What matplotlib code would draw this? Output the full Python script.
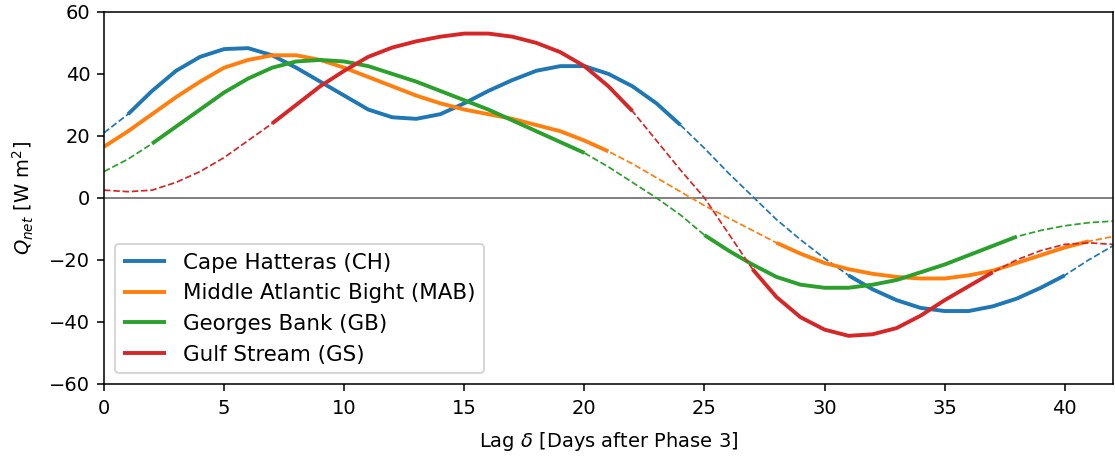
import numpy as np
import matplotlib
matplotlib.use("Agg")
import matplotlib.pyplot as plt

# Lag in days after phase 3
days = np.arange(0, 43)

# Net heat flux composites (W m^2)
ch = [21, 27, 34.5, 41, 45.5, 48, 48.3, 46, 42, 37.5, 33, 28.5, 26, 25.5, 27,
      30.5, 34.5, 38, 41, 42.5, 42.5, 40, 36, 30.5, 23.5, 16, 8, 0.5, -7, -13.5,
      -19.5, -25, -29.5, -33, -35.5, -36.5, -36.5, -35, -32.5, -29, -25, -20, -15.5]
mab = [16.5, 21.5, 27, 32.5, 37.5, 42, 44.5, 46, 46, 44.5, 42, 39, 36, 33, 30.5,
       28.5, 27, 25.5, 23.5, 21.5, 18.5, 15, 11, 6.5, 2, -2.5, -6.5, -10.5, -14.5,
       -18, -21, -23, -24.5, -25.5, -26, -26, -25, -23.5, -21, -18.5, -16, -14, -12.5]
gb = [8.5, 12.5, 17.5, 23, 28.5, 34, 38.5, 42, 44, 44.5, 44, 42.5, 40, 37.5, 34.5,
      31.5, 28.5, 25, 21.5, 18, 14.5, 10, 5, 0, -5.5, -12, -17, -21.5, -25.5, -28,
      -29, -29, -28, -26.5, -24, -21.5, -18.5, -15.5, -12.5, -10.5, -9, -8, -7.5]
gs = [2.5, 2, 2.5, 5, 8.5, 13, 18.5, 24, 30, 36, 41, 45.5, 48.5, 50.5, 52, 53, 53,
      52, 50, 47, 42.5, 36, 28, 18.5, 9, 0, -11.5, -23, -32, -38.5, -42.5, -44.5,
      -44, -42, -38, -33, -28.5, -24, -20, -17, -15, -14.5, -15]

# significant (solid) day ranges
ch_sig = [(1, 24), (31, 40)]
mab_sig = [(0, 21), (28, 41)]
gb_sig = [(2, 20), (25, 38)]
gs_sig = [(7, 22), (27, 37)]

names = ["Cape Hatteras (CH)", "Middle Atlantic Bight (MAB)",
         "Georges Bank (GB)", "Gulf Stream (GS)"]
colors = ["tab:blue", "tab:orange", "tab:green", "tab:red"]

fig = plt.figure(figsize=(1115 / 140, 457 / 140), dpi=140)
ax = fig.add_axes([0.0933, 0.160, 0.9047, 0.814])

ax.axhline(0, color="gray", lw=1)

for vals, sig, name, c in zip([ch, mab, gb, gs], [ch_sig, mab_sig, gb_sig, gs_sig], names, colors):
    vals = np.array(vals)
    ax.plot(days, vals, color=c, lw=0.9, ls="--")
    for i, (a, b) in enumerate(sig):
        m = (days >= a) & (days <= b)
        ax.plot(days[m], vals[m], color=c, lw=2, label=name if i == 0 else None,
                solid_capstyle="butt")

ax.set_xlim(0, 42)
ax.set_ylim(-60, 60)
ax.set_yticks(np.arange(-60, 61, 20))
ax.tick_params(axis="x", pad=4.5)
ax.set_xlabel(r"Lag $\delta$ [Days after Phase 3]", labelpad=6)
ax.set_ylabel(r"$Q_{net}$ [W m$^2$]", labelpad=7)
ax.legend(loc="lower left", fontsize=11)

fig.savefig("out.png", dpi=140)
